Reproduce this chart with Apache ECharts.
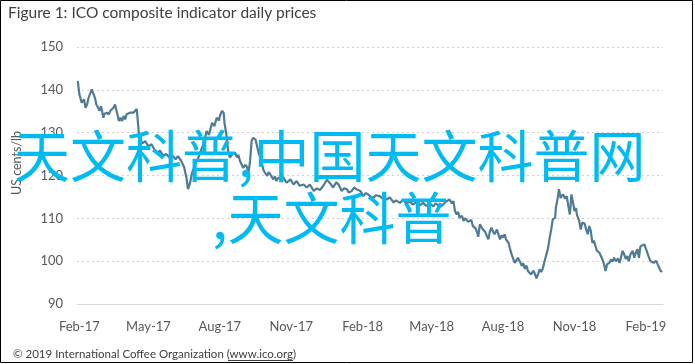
<!DOCTYPE html>
<html><head><meta charset="utf-8">
<script src="https://cdn.jsdelivr.net/npm/echarts@6/dist/echarts.min.js"></script>
<style>html,body{margin:0;padding:0;background:#fff}#c{width:695px;height:364px}</style>
</head><body><div id="c"></div>
<script>
const titleText = 'Figure 1: ICO composite indicator daily prices';
const yAxisName = 'US cents/lb';
const sourceText = '© 2019 International Coffee Organization (www.ico.org)';
const watermarkRows = ['天文科普,中国天文科普网', ',天文科普'];

const tickDates = ['2017-02-01','2017-05-01','2017-08-01','2017-11-01','2018-02-01','2018-05-01','2018-08-01','2018-11-01','2019-02-01'];
const tickLabels = ['Feb-17','May-17','Aug-17','Nov-17','Feb-18','May-18','Aug-18','Nov-18','Feb-19'];
const yMin = 90, yMax = 150, yStep = 10;

const dates = [
'2017-01-30','2017-02-01','2017-02-04','2017-02-07','2017-02-09','2017-02-11','2017-02-13','2017-02-15','2017-02-17','2017-02-19',
'2017-02-21','2017-02-23','2017-02-25','2017-02-27','2017-03-01','2017-03-04','2017-03-05','2017-03-08','2017-03-11','2017-03-13',
'2017-03-15','2017-03-17','2017-03-19','2017-03-22','2017-03-24','2017-03-26','2017-03-28','2017-03-30','2017-04-01','2017-04-03',
'2017-04-05','2017-04-08','2017-04-10','2017-04-12','2017-04-14','2017-04-16','2017-04-18','2017-04-19','2017-04-21','2017-04-23',
'2017-04-27','2017-05-01','2017-05-05','2017-05-09','2017-05-12','2017-05-16','2017-05-20','2017-05-24','2017-05-28','2017-06-01',
'2017-06-05','2017-06-08','2017-06-12','2017-06-16','2017-06-19','2017-06-21','2017-06-24','2017-06-26','2017-06-30','2017-07-04',
'2017-07-08','2017-07-12','2017-07-15','2017-07-18','2017-07-22','2017-07-25','2017-07-28','2017-07-31','2017-08-01','2017-08-04',
'2017-08-06','2017-08-07','2017-08-08','2017-08-10','2017-08-12','2017-08-14','2017-08-17','2017-08-19','2017-08-21','2017-08-23',
'2017-08-25','2017-08-27','2017-08-29','2017-08-31','2017-09-03','2017-09-05','2017-09-07','2017-09-09','2017-09-11','2017-09-13',
'2017-09-16','2017-09-18','2017-09-20','2017-09-22','2017-09-24','2017-09-26','2017-09-28','2017-10-01','2017-10-03','2017-10-05',
'2017-10-07','2017-10-09','2017-10-11','2017-10-13','2017-10-15','2017-10-18','2017-10-22','2017-10-26','2017-10-31','2017-11-04',
'2017-11-08','2017-11-12','2017-11-17','2017-11-21','2017-11-25','2017-11-30','2017-12-04','2017-12-08','2017-12-12','2017-12-17',
'2017-12-21','2017-12-25','2017-12-29','2018-01-01','2018-01-05','2018-01-08','2018-01-12','2018-01-14','2018-01-18','2018-01-21',
'2018-01-24','2018-01-29','2018-02-02','2018-02-05','2018-02-08','2018-02-12','2018-02-15','2018-02-18','2018-02-23','2018-02-27',
'2018-03-04','2018-03-08','2018-03-13','2018-03-16','2018-03-21','2018-03-25','2018-03-29','2018-04-03','2018-04-07','2018-04-11',
'2018-04-16','2018-04-20','2018-04-24','2018-04-29','2018-05-03','2018-05-06','2018-05-10','2018-05-13','2018-05-16','2018-05-20',
'2018-05-24','2018-05-27','2018-05-29','2018-05-31','2018-06-02','2018-06-04','2018-06-06','2018-06-09','2018-06-11','2018-06-13',
'2018-06-15','2018-06-17','2018-06-19','2018-06-21','2018-06-23','2018-06-26','2018-06-28','2018-06-30','2018-07-02','2018-07-04',
'2018-07-06','2018-07-09','2018-07-11','2018-07-13','2018-07-15','2018-07-17','2018-07-19','2018-07-21','2018-07-24','2018-07-26',
'2018-07-28','2018-07-30','2018-08-01','2018-08-03','2018-08-05','2018-08-08','2018-08-10','2018-08-12','2018-08-14','2018-08-16',
'2018-08-18','2018-08-20','2018-08-23','2018-08-25','2018-08-27','2018-08-29','2018-08-31','2018-09-02','2018-09-04','2018-09-06',
'2018-09-09','2018-09-11','2018-09-13','2018-09-15','2018-09-17','2018-09-19','2018-09-21','2018-09-24','2018-09-26','2018-09-28',
'2018-09-30','2018-10-02','2018-10-04','2018-10-07','2018-10-08','2018-10-10','2018-10-12','2018-10-14','2018-10-17','2018-10-20',
'2018-10-22','2018-10-24','2018-10-26','2018-10-28','2018-10-30','2018-11-01','2018-11-03','2018-11-04','2018-11-07','2018-11-09',
'2018-11-11','2018-11-14','2018-11-16','2018-11-18','2018-11-20','2018-11-22','2018-11-24','2018-11-26','2018-11-28','2018-11-30',
'2018-12-03','2018-12-05','2018-12-07','2018-12-09','2018-12-11','2018-12-13','2018-12-16','2018-12-18','2018-12-20','2018-12-22',
'2018-12-24','2018-12-27','2018-12-29','2019-01-02','2019-01-04','2019-01-06','2019-01-08','2019-01-10','2019-01-12','2019-01-15',
'2019-01-17','2019-01-19','2019-01-21','2019-01-23','2019-01-25','2019-01-27','2019-01-30','2019-02-01','2019-02-02','2019-02-05',
'2019-02-07','2019-02-09','2019-02-11','2019-02-14','2019-02-16','2019-02-18','2019-02-20','2019-02-22'
];
const prices = [
142.1,139.0,137.0,137.8,135.8,136.6,138.2,138.6,140.1,139.7,
138.2,136.6,137.0,135.1,136.2,133.5,134.3,134.7,134.3,135.1,
134.7,135.8,136.6,134.3,132.7,133.5,132.7,133.9,133.1,134.3,
133.9,134.7,134.3,134.7,135.1,135.5,135.2,129.2,128.5,127.5,
128.0,126.8,127.3,126.0,125.2,125.8,124.6,125.0,124.2,124.6,
123.8,124.5,123.5,122.0,119.5,116.8,118.5,120.5,122.5,124.0,
126.0,128.0,130.4,129.5,132.3,131.5,133.5,132.8,133.9,135.1,
134.6,132.3,131.2,128.8,125.3,124.2,125.0,124.6,125.3,124.2,
124.8,123.4,123.0,121.8,122.5,122.0,120.7,123.4,128.1,128.8,
128.4,126.9,125.3,124.2,123.0,121.4,120.7,119.9,120.8,120.3,
119.6,119.1,119.8,118.7,119.4,119.5,119.5,118.3,119.1,117.9,
118.7,117.6,117.9,117.2,117.9,116.4,117.0,116.6,117.5,119.0,
118.2,117.2,118.4,117.9,116.4,117.0,116.8,116.0,116.4,117.2,
116.8,116.4,115.2,115.9,115.6,115.0,114.8,115.4,115.2,114.6,
114.4,114.9,113.7,114.2,113.6,114.3,113.5,113.9,113.2,113.8,
113.1,113.6,112.9,113.4,112.8,113.5,113.0,112.8,113.3,114.0,
114.4,113.5,114.0,111.7,110.9,111.5,110.1,110.6,109.4,110.0,
109.8,109.2,109.0,109.6,108.2,107.8,107.0,105.7,108.6,109.0,
107.4,106.8,105.9,105.1,107.0,107.8,106.9,106.3,107.4,107.0,
105.1,106.0,105.5,106.3,105.0,104.3,102.8,101.6,100.6,99.6,
100.2,100.8,99.8,98.9,99.5,98.2,99.0,97.7,97.5,96.9,
97.8,97.0,96.0,96.9,98.1,97.5,98.2,100.4,100.8,103.1,
105.5,107.4,109.8,110.1,112.5,114.4,116.8,114.8,115.6,114.6,
115.2,112.9,110.9,115.6,113.7,111.7,112.4,110.9,109.4,107.4,
109.0,108.8,107.4,106.3,108.2,107.0,104.3,104.8,103.5,102.4,
102.0,101.2,100.4,99.3,97.7,99.3,99.6,100.4,99.9,100.8,
100.0,100.6,99.6,102.4,101.6,100.5,101.2,100.0,101.6,102.4,
100.8,102.0,102.8,100.8,103.5,103.1,103.9,104.3,102.4,100.8,
100.0,100.4,99.6,100.1,99.3,99.6,97.7,97.5
];

function parseDate(s) { const p = s.split('-').map(Number); return Date.UTC(p[0], p[1] - 1, p[2]); }
const tickTs = tickDates.map(parseDate);
const seriesData = dates.map((d, i) => [parseDate(d), prices[i]]);

const chart = echarts.init(document.getElementById('c'), null, {renderer: 'canvas'});
const labelColor = '#595959';
chart.setOption({
  animation: false,
  backgroundColor: '#ffffff',
  grid: {left: 77, right: 32, top: 47, bottom: 60, containLabel: false},
  xAxis: {
    type: 'value',
    min: parseDate('2017-01-29'),
    max: parseDate('2019-02-23'),
    axisLine: {show: true, onZero: false, lineStyle: {color: '#D9D9D9', width: 1}},
    axisTick: {show: false},
    splitLine: {show: false},
    axisLabel: {
      customValues: tickTs,
      showMinLabel: true, showMaxLabel: true,
      color: labelColor, fontFamily: 'Lato', fontSize: 13, margin: 16,
      formatter: function (v) { const i = tickTs.indexOf(v); return i >= 0 ? tickLabels[i] : ''; }
    }
  },
  yAxis: {
    type: 'value', min: yMin, max: yMax, interval: yStep,
    axisLine: {show: false}, axisTick: {show: false},
    splitLine: {show: true, lineStyle: {color: '#D0D0D0', width: 1, type: [2, 3]}},
    axisLabel: {color: labelColor, fontFamily: 'Lato', fontSize: 13, margin: 14}
  },
  series: [{
    type: 'line', data: seriesData, showSymbol: false, symbol: 'none',
    lineStyle: {color: '#4F7C94', width: 2.2}, z: 3
  }],
  graphic: [
    {type: 'rect', shape: {x: 0.5, y: 0.5, width: 692, height: 362}, style: {fill: 'none', stroke: '#000', lineWidth: 1}, z: 50, silent: true},
    {type: 'text', left: 8, top: 5, style: {text: titleText, fontFamily: 'Lato', fontSize: 15.5, fill: '#404040'}, z: 50},
    {type: 'text', left: 13, top: 348, style: {text: sourceText, fontFamily: 'Lato', fontSize: 11.5, fill: '#404040'}, z: 50},
    {type: 'line', shape: {x1: 228, y1: 360.5, x2: 293, y2: 360.5}, style: {stroke: '#404040', lineWidth: 1}, z: 50, silent: true},
    {type: 'text', x: 10, y: 163, rotation: Math.PI / 2, style: {text: yAxisName, fontFamily: 'Lato', fontSize: 12.5, fill: labelColor, align: 'center', verticalAlign: 'top'}, z: 50},
    {type: 'text', left: 14, top: 128, style: {text: watermarkRows[0], fontFamily: 'Noto Sans CJK SC', fontSize: 56, fill: '#00BAF2'}, z: 100},
    {type: 'text', left: 212, top: 190, style: {text: watermarkRows[1], fontFamily: 'Noto Sans CJK SC', fontSize: 56, fill: '#00BAF2'}, z: 100}
  ]
});
</script></body></html>
